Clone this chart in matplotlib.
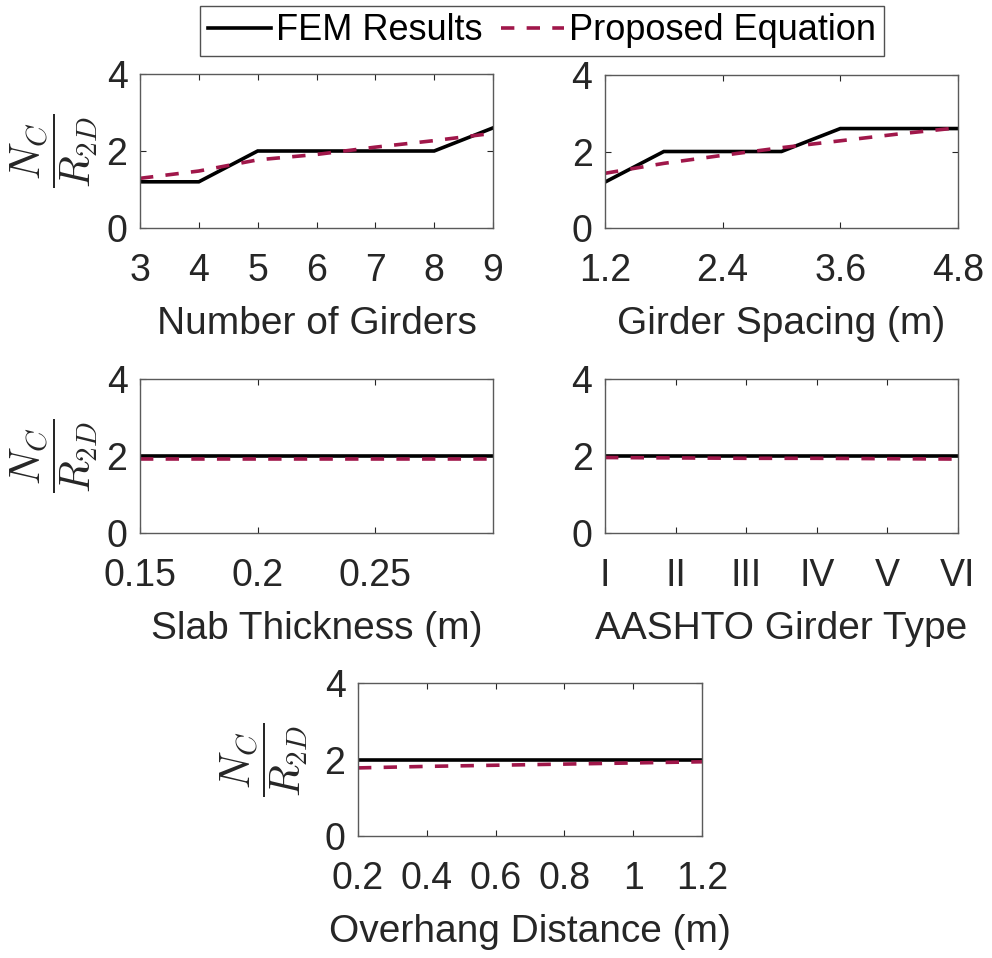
import matplotlib
matplotlib.use("Agg")
import matplotlib.pyplot as plt
import numpy as np

plt.rcParams['font.family'] = ['Liberation Sans', 'DejaVu Sans']
plt.rcParams['mathtext.fontset'] = 'cm'

# girder count
girders = [3, 4, 5, 6, 7, 8, 9]
girders_fem = [1.2, 1.2, 2.0, 2.0, 2.0, 2.0, 2.6]
girders_eq = [1.29, 1.48, 1.77, 1.91, 2.10, 2.27, 2.46]

# girder spacing (m)
spacing = [1.2, 1.8, 2.4, 3.0, 3.6, 4.2, 4.8]
spacing_fem = [1.2, 2.0, 2.0, 2.0, 2.6, 2.6, 2.6]
spacing_eq = [1.43, 1.69, 1.90, 2.10, 2.28, 2.46, 2.62]

# slab thickness (m)
slab = [0.15, 0.2, 0.25, 0.3]
slab_fem = [2.0, 2.0, 2.0, 2.0]
slab_eq = [1.92, 1.92, 1.92, 1.92]

# AASHTO girder type
gtype = [1, 2, 3, 4, 5, 6]
gtype_labels = ['I', 'II', 'III', 'IV', 'V', 'VI']
gtype_fem = [2.0, 2.0, 2.0, 2.0, 2.0, 2.0]
gtype_eq = [1.96, 1.95, 1.94, 1.94, 1.93, 1.92]

# overhang distance (m)
overhang = [0.2, 0.4, 0.6, 0.8, 1.0, 1.2]
overhang_fem = [2.0, 2.0, 2.0, 2.0, 2.0, 2.0]
overhang_eq = [1.78, 1.82, 1.85, 1.88, 1.91, 1.94]

W, H = 992, 958
fig = plt.figure(figsize=(W / 100, H / 100), dpi=100)

def px_axes(left, right, top, bottom):
    return fig.add_axes([left / W, 1 - bottom / H, (right - left) / W, (bottom - top) / H])

eq_color = '#A0174A'
axis_color = '#262626'

def panel(ax, x, fem, eq, xlabel, xticks, xlim, xticklabels, ylab_x=None):
    l1, = ax.plot(x, fem, color='black', lw=2.6, solid_joinstyle='miter')
    l2, = ax.plot(x, eq, color=eq_color, lw=2.6, linestyle=(0, (3.7, 3.4)))
    ax.set_xlim(*xlim)
    ax.set_ylim(0, 4)
    ax.set_yticks([0, 2, 4])
    ax.set_xticks(xticks)
    ax.set_xticklabels(xticklabels)
    ax.tick_params(axis='both', direction='in', length=4, width=0.8,
                   top=True, right=True, labelsize=27, colors=axis_color)
    ax.tick_params(axis='x', pad=18)
    ax.tick_params(axis='y', pad=9)
    for s in ax.spines.values():
        s.set_color('#5a5a5a')
        s.set_linewidth(1.0)
    ax.set_xlabel(xlabel, fontsize=28, color=axis_color, labelpad=12)
    if ylab_x is not None:
        ax.set_ylabel(r'$\dfrac{N_C}{R_{2D}}$', fontsize=30, color=axis_color)
        ax.yaxis.set_label_coords(ylab_x, 0.5)
    return l1, l2

ax1 = px_axes(140, 493, 74, 228)
h1, h2 = panel(ax1, girders, girders_fem, girders_eq, 'Number of Girders',
               girders, (3, 9), [str(g) for g in girders], ylab_x=-0.113)

ax2 = px_axes(605, 958, 75, 228)
panel(ax2, spacing, spacing_fem, spacing_eq, 'Girder Spacing (m)',
      [1.2, 2.4, 3.6, 4.8], (1.2, 4.8), ['1.2', '2.4', '3.6', '4.8'])

ax3 = px_axes(140, 493, 379, 533)
panel(ax3, slab, slab_fem, slab_eq, 'Slab Thickness (m)',
      [0.15, 0.2, 0.25], (0.15, 0.3), ['0.15', '0.2', '0.25'], ylab_x=-0.113)

ax4 = px_axes(605, 958, 379, 533)
panel(ax4, gtype, gtype_fem, gtype_eq, 'AASHTO Girder Type',
      gtype, (1, 6), gtype_labels)

ax5 = px_axes(358, 702, 683, 836)
panel(ax5, overhang, overhang_fem, overhang_eq, 'Overhang Distance (m)',
      overhang, (0.2, 1.2), ['0.2', '0.4', '0.6', '0.8', '1', '1.2'],
      ylab_x=-0.14)

leg = fig.legend([h1, h2], ['FEM Results', 'Proposed Equation'], ncol=2,
                 loc='center', bbox_to_anchor=(542 / W, 1 - 31 / H),
                 fontsize=26, frameon=True, fancybox=False,
                 handlelength=1.75, handletextpad=0.15, columnspacing=0.5,
                 borderpad=0.2, borderaxespad=0)
leg.get_frame().set_edgecolor('#262626')
leg.get_frame().set_linewidth(1.0)

fig.savefig('out.png', dpi=100)
